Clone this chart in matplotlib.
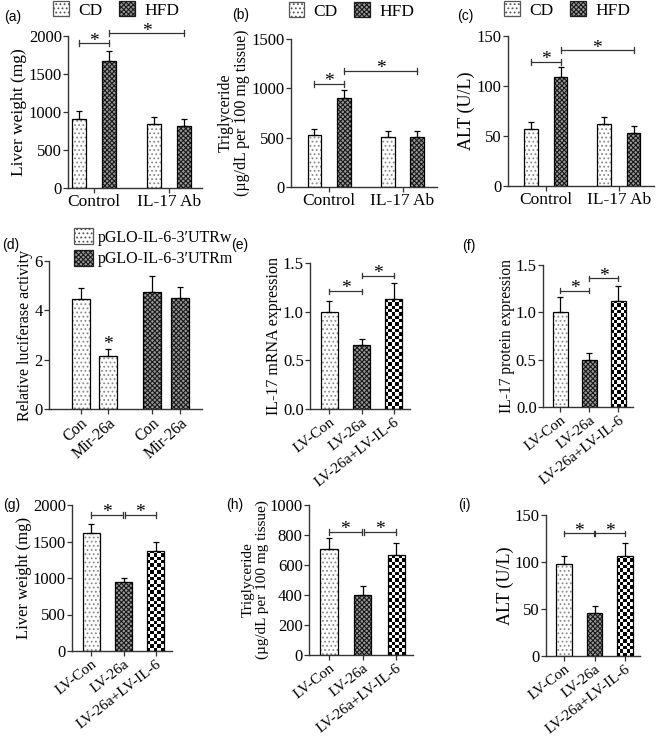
import numpy as np
import matplotlib
matplotlib.use("Agg")
import matplotlib.pyplot as plt
from matplotlib.patches import Patch

plt.rcParams["font.family"] = ["Liberation Serif", "DejaVu Serif"]
plt.rcParams["hatch.linewidth"] = 0.8

# ---- data ----
diet_groups = ["Control", "IL-17 Ab"]
liver_cd = [910, 840]
liver_cd_err = [100, 100]
liver_hfd = [1670, 810]
liver_hfd_err = [130, 100]

tg_cd = [527, 503]
tg_cd_err = [61, 68]
tg_hfd = [902, 503]
tg_hfd_err = [81, 68]

alt_cd = [57.5, 61.8]
alt_cd_err = [6.5, 7.0]
alt_hfd = [108.6, 53.5]
alt_hfd_err = [10.0, 7.0]

luc_labels = ["Con", "Mir-26a"]
luc_w = [4.45, 2.15]
luc_w_err = [0.44, 0.27]
luc_m = [4.76, 4.49]
luc_m_err = [0.63, 0.47]

lv_labels = ["LV-Con", "LV-26a", "LV-26a+LV-IL-6"]
il17_mrna = [1.00, 0.66, 1.13]
il17_mrna_err = [0.11, 0.06, 0.16]
il17_prot = [1.00, 0.50, 1.12]
il17_prot_err = [0.16, 0.075, 0.16]
lv_liver = [1612, 941, 1370]
lv_liver_err = [123, 64, 128]
lv_tg = [707, 398, 664]
lv_tg_err = [71, 62, 80]
lv_alt = [97.9, 46.1, 106.4]
lv_alt_err = [8.5, 7.4, 14.2]

W, H = 656, 736
fig = plt.figure(figsize=(W / 100, H / 100), dpi=100)

DOT = dict(color="white", edgecolor="#8a8a8a", hatch="....", linewidth=0)
DENSE = dict(color="#9a9a9a", edgecolor="#1a1a1a", hatch="xxxxxxx", linewidth=0)
TICK_FS = 12


def make_axes(left, top, right, bottom):
    return fig.add_axes([left / W, 1 - bottom / H, (right - left) / W, (bottom - top) / H])


def style_axes(ax, ymax, yticks, fmt="{:g}"):
    ax.set_ylim(0, ymax)
    for s in ("top", "right"):
        ax.spines[s].set_visible(False)
    for s in ("left", "bottom"):
        ax.spines[s].set_color("#333333")
        ax.spines[s].set_linewidth(1.0)
    ax.set_yticks(yticks)
    ax.set_yticklabels([fmt.format(t) for t in yticks], fontsize=TICK_FS)
    ax.tick_params(axis="both", direction="out", length=3.5, width=0.9, color="#333333", pad=1)


def outline(ax, x, h, w):
    ax.bar(x, h, w, fill=False, edgecolor="black", linewidth=0.9, zorder=3)


def dotted_bars(ax, x, h, w):
    ax.bar(x, h, w, zorder=2, **DOT)
    outline(ax, x, h, w)


def dense_bars(ax, x, h, w):
    ax.bar(x, h, w, zorder=2, **DENSE)
    outline(ax, x, h, w)


def checker_bars(ax, x, h, w, cell=3.3):
    for xi, hi in zip(np.atleast_1d(x), np.atleast_1d(h)):
        rect = ax.bar(xi, hi, w, color="white", linewidth=0, zorder=1)[0]
        p0 = ax.transData.transform((xi - w / 2, 0))
        p1 = ax.transData.transform((xi + w / 2, hi))
        nx = max(1, int(round((p1[0] - p0[0]) / cell)))
        ny = max(1, int(round((p1[1] - p0[1]) / cell)))
        grid = np.indices((ny, nx)).sum(axis=0) % 2
        im = ax.imshow(grid, cmap="gray", extent=(xi - w / 2, xi + w / 2, 0, hi),
                       origin="lower", aspect="auto", interpolation="nearest", zorder=2)
        im.set_clip_path(rect)
    outline(ax, x, h, w)


def err_up(ax, x, h, e):
    ax.errorbar(x, h, yerr=[np.zeros(len(e)), e], fmt="none", ecolor="black",
                elinewidth=0.9, capsize=2.5, capthick=0.9, zorder=4)


def star(ax, x, y):
    ax.annotate("*", (x, y), xytext=(0, -4.5), textcoords="offset points",
                ha="center", va="bottom", fontsize=14, annotation_clip=False)


def bracket(ax, x0, x1, y, cap):
    kw = dict(color="#333333", lw=0.9, clip_on=False, zorder=5)
    ax.plot([x0, x1], [y, y], **kw)
    ax.plot([x0, x0], [y - cap, y + cap], **kw)
    ax.plot([x1, x1], [y - cap, y + cap], **kw)
    star(ax, (x0 + x1) / 2, y)


def panel_label(x, y, s):
    fig.text(x / W, 1 - y / H, s, fontsize=10, family="Liberation Sans", va="center")


def legend_handles():
    return [Patch(facecolor="white", edgecolor="#555555", hatch="....", linewidth=0.9),
            Patch(facecolor="#9a9a9a", edgecolor="#1a1a1a", hatch="xxxxxxx", linewidth=0.9)]


def diet_legend(ax, bx, by):
    ax.legend(legend_handles(), ["CD", "HFD"], ncol=2, loc="center", bbox_to_anchor=(bx, by),
              frameon=False, fontsize=12.5, handlelength=0.9, handleheight=0.95,
              handletextpad=0.55, columnspacing=0.95, borderpad=0, borderaxespad=0)


# ---- (a)-(c): CD vs HFD ----
diet_panels = [
    ((68, 36, 202, 188), (-0.35, 1.44), liver_cd, liver_cd_err, liver_hfd, liver_hfd_err,
     2000, [0, 500, 1000, 1500, 2000], "Liver weight (mg)", 12.5, (1903, 2035), 40,
     (0.36, 1.171), (4, 17, "(a)")),
    ((291, 39, 437, 187), (-0.52, 1.47), tg_cd, tg_cd_err, tg_hfd, tg_hfd_err,
     1500, [0, 500, 1000, 1500], "Triglyceride\n(\u00b5g/dL per 100 mg tissue)", 11.5,
     (1047, 1179), 30, (0.415, 1.189), (232, 15, "(b)")),
    ((508, 36, 654, 186), (-0.52, 1.48), alt_cd, alt_cd_err, alt_hfd, alt_hfd_err,
     150, [0, 50, 100, 150], "ALT (U/L)", 13, (124, 135.6), 3,
     (0.405, 1.173), (457, 16, "(c)")),
]

off, bw = 0.2, 0.19
for (rect, xl, cd, cde, hfd, hfde, ymax, yt, ylab, yfs, brk, cap, lg, pl) in diet_panels:
    ax = make_axes(*rect)
    style_axes(ax, ymax, yt)
    ax.set_xlim(*xl)
    g = np.arange(len(diet_groups), dtype=float)
    dotted_bars(ax, g - off, cd, bw)
    dense_bars(ax, g + off, hfd, bw)
    err_up(ax, g - off, cd, cde)
    err_up(ax, g + off, hfd, hfde)
    ax.set_xticks(g)
    ax.set_xticklabels(diet_groups, fontsize=12.5)
    ax.set_ylabel(ylab, fontsize=yfs, labelpad=1, linespacing=1.05)
    bracket(ax, g[0] - off, g[0] + off, brk[0], cap)
    bracket(ax, g[0] + off, g[1] + off, brk[1], cap)
    ax.set_ylim(0, ymax)
    diet_legend(ax, *lg)
    panel_label(*pl)

# ---- (d): luciferase ----
ax = make_axes(49, 261, 202, 409)
style_axes(ax, 6, [0, 2, 4, 6])
ax.set_xlim(-0.63, 1.5)
g = np.array([0.0, 1.0])
o, w = 0.19, 0.25
xw = np.array([g[0] - o, g[0] + o])
xm = np.array([g[1] - o, g[1] + o])
dotted_bars(ax, xw, luc_w, w)
dense_bars(ax, xm, luc_m, w)
err_up(ax, xw, luc_w, luc_w_err)
err_up(ax, xm, luc_m, luc_m_err)
star(ax, xw[1], luc_w[1] + luc_w_err[1] + 0.12)
ax.set_xticks(np.concatenate([xw, xm]))
ax.set_xticklabels(luc_labels * 2, rotation=42, ha="right", va="top",
                   rotation_mode="anchor", fontsize=11.5)
ax.set_ylabel("Relative luciferase activity", fontsize=11.5, labelpad=1)
ax.set_ylim(0, 6)
ax.legend(legend_handles(), ["pGLO-IL-6-3\u2032UTRw", "pGLO-IL-6-3\u2032UTRm"], loc="center left",
          bbox_to_anchor=(0.165, 1.088), frameon=False, fontsize=11.5, handlelength=1.2,
          handleheight=1.1, handletextpad=0.3, labelspacing=0.3, borderpad=0, borderaxespad=0)
panel_label(2, 245, "(d)")

# ---- (e)-(i): lentivirus panels ----
lv_panels = [
    ((310, 263, 410, 409), il17_mrna, il17_mrna_err, 1.5, [0, 0.5, 1.0, 1.5], "{:.1f}",
     "IL-17 mRNA expression", 11.5, (1.21, 1.37), 0.025, False, (231, 245, "(e)")),
    ((543, 265, 633, 407), il17_prot, il17_prot_err, 1.5, [0, 0.5, 1.0, 1.5], "{:.1f}",
     "IL-17 protein expression", 11.2, (1.23, 1.36), 0.025, False, (462, 246, "(f)")),
    ((72, 505, 172, 651), lv_liver, lv_liver_err, 2000, [0, 500, 1000, 1500, 2000], "{:g}",
     "Liver weight (mg)", 12, (1863, 1863), 40, True, (3, 505, "(g)")),
    ((309, 505, 413, 655), lv_tg, lv_tg_err, 1000, [0, 200, 400, 600, 800, 1000], "{:g}",
     "Triglyceride\n(\u00b5g/dL per 100 mg tissue)", 11, (822, 822), 20, True, (226, 505, "(h)")),
    ((546, 515, 640, 656), lv_alt, lv_alt_err, 150, [0, 50, 100, 150], "{:g}",
     "ALT (U/L)", 13, (130.5, 130.5), 3, True, (458, 505, "(i)")),
]

for (rect, vals, errs, ymax, yt, fmt, ylab, yfs, brk, cap, joined, pl) in lv_panels:
    ax = make_axes(*rect)
    style_axes(ax, ymax, yt, fmt)
    ax.set_xlim(-0.6, 2.5)
    x = np.arange(len(lv_labels), dtype=float)
    w = 0.52
    dotted_bars(ax, x[:1], vals[:1], w)
    dense_bars(ax, x[1:2], vals[1:2], w)
    checker_bars(ax, x[2:], vals[2:], w)
    err_up(ax, x, vals, errs)
    gap = 0.03 if joined else 0.0
    bracket(ax, x[0], x[1] - gap, brk[0], cap)
    bracket(ax, x[1] + gap, x[2], brk[1], cap)
    ax.set_xticks(x)
    ax.set_xticklabels(lv_labels, rotation=38, ha="right", va="top",
                       rotation_mode="anchor", fontsize=11)
    ax.set_ylabel(ylab, fontsize=yfs, labelpad=0.5, linespacing=1.05)
    ax.set_xlim(-0.6, 2.5)
    ax.set_ylim(0, ymax)
    panel_label(*pl)

fig.savefig("out.png", dpi=100)
